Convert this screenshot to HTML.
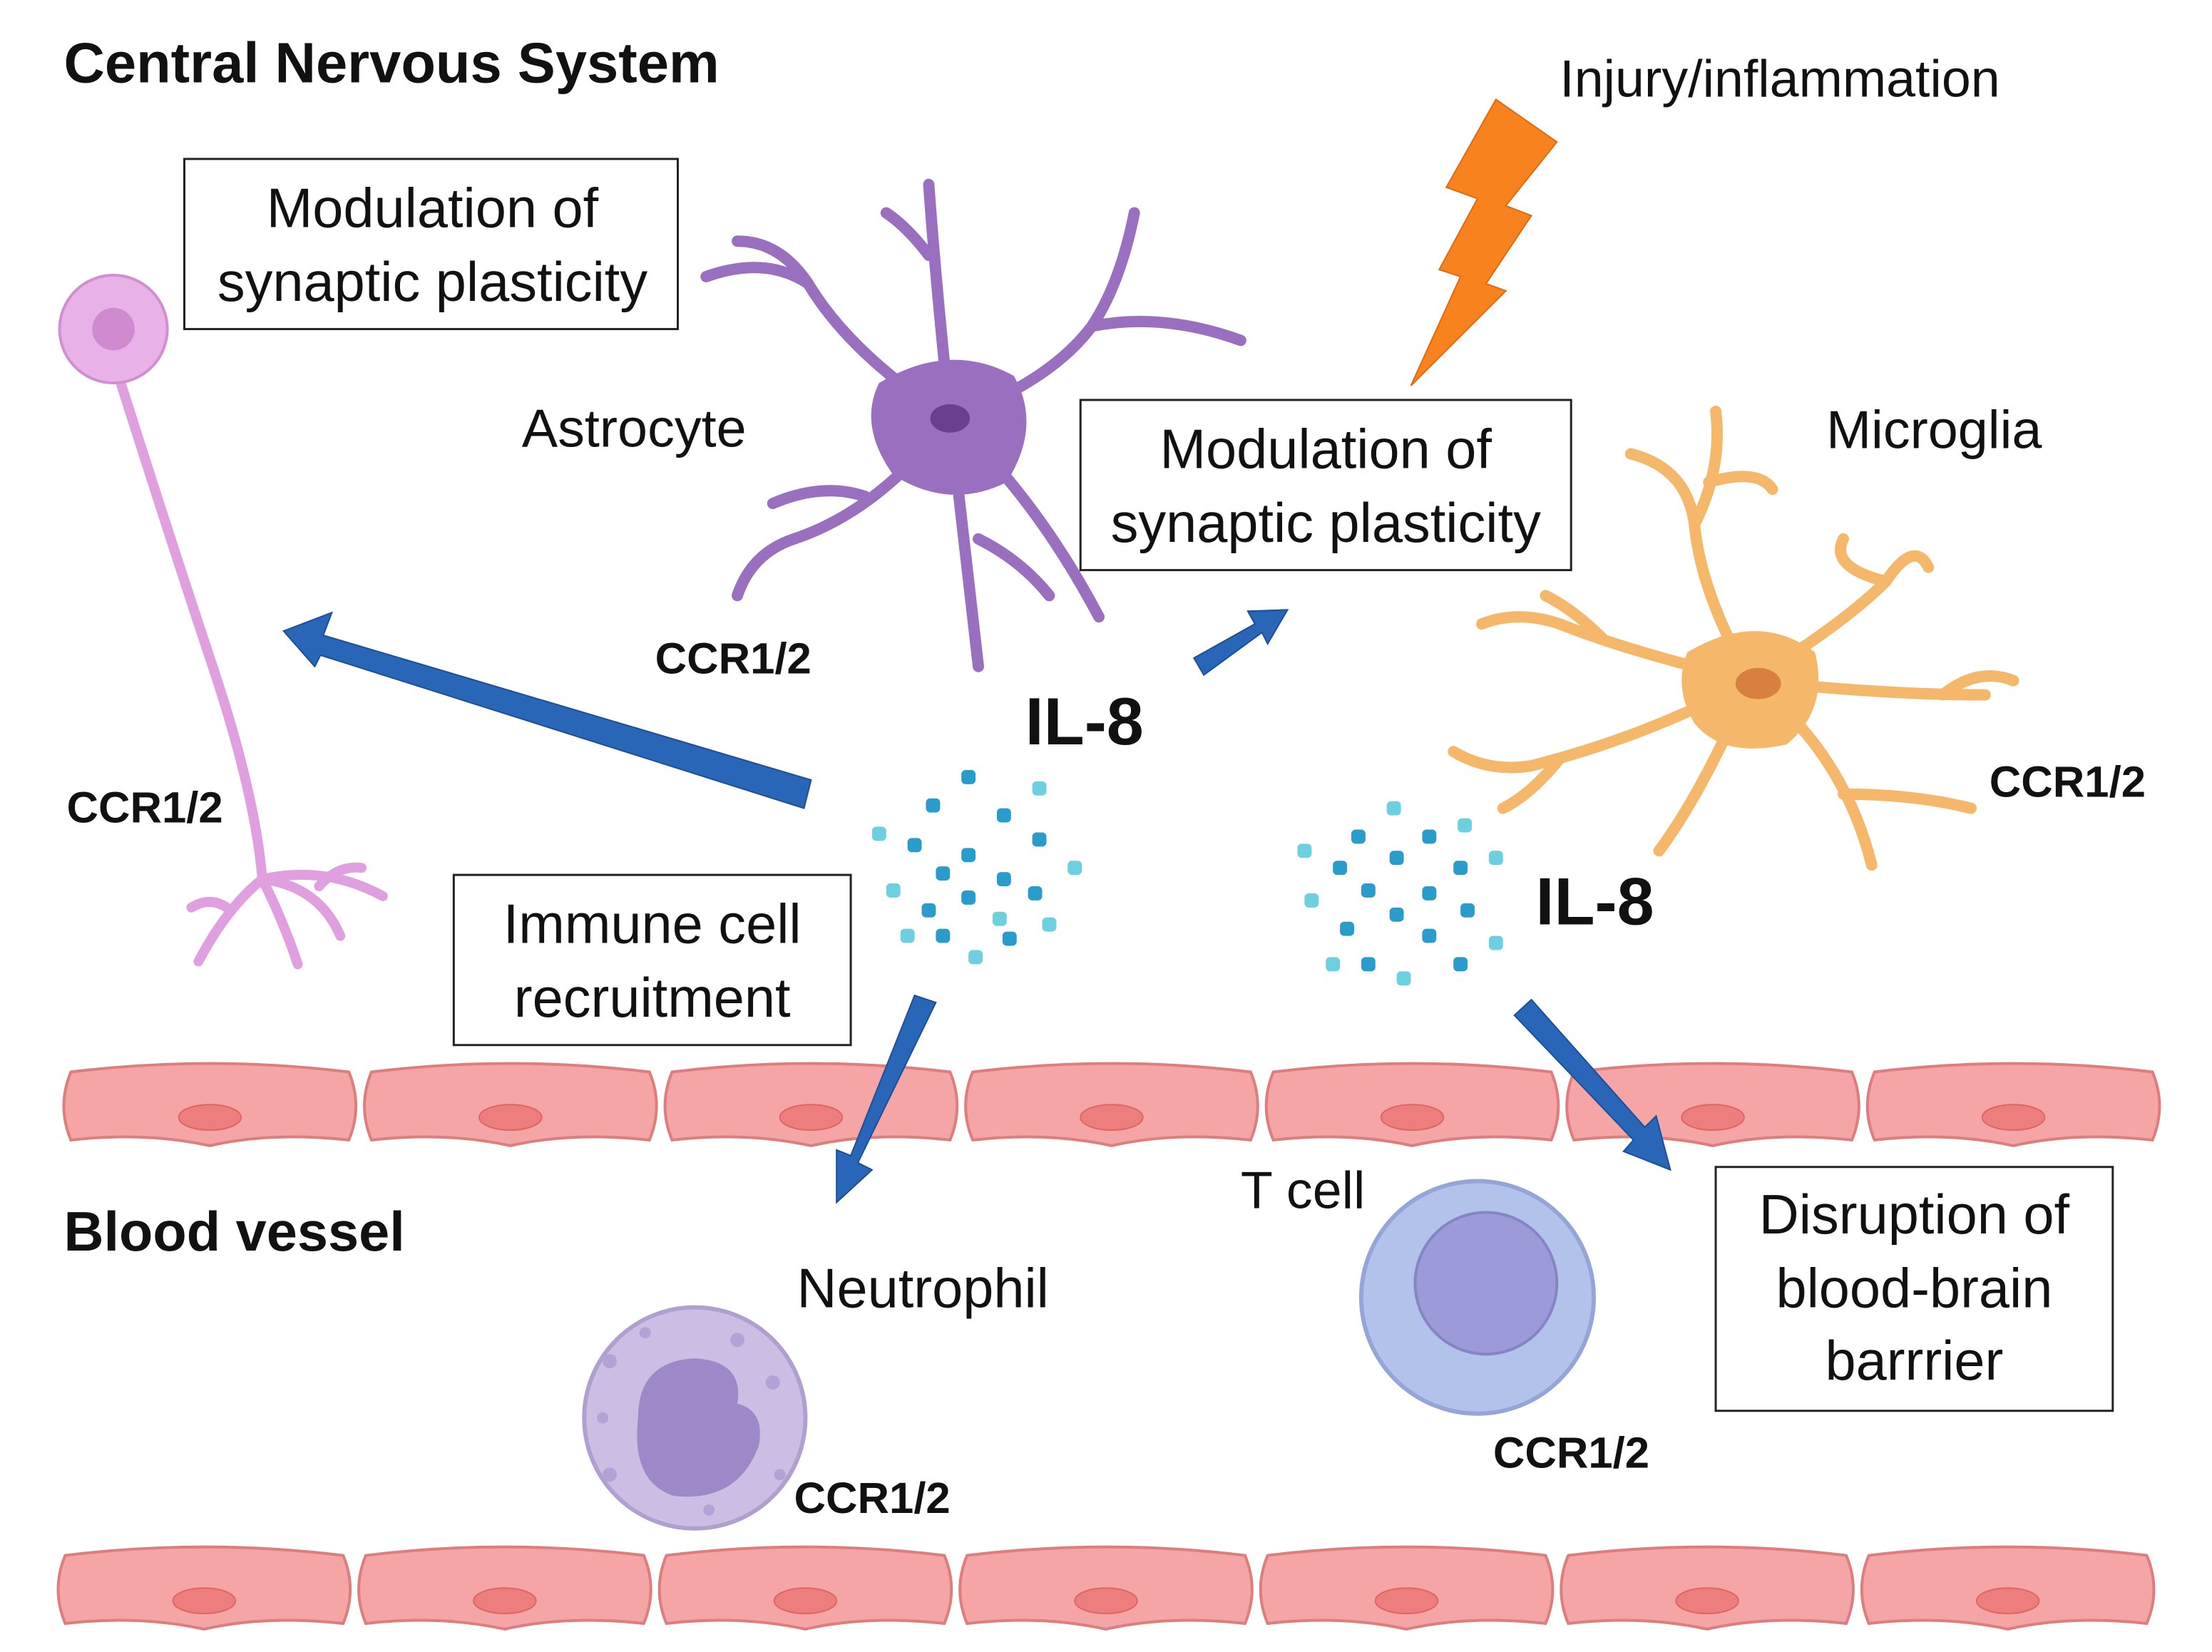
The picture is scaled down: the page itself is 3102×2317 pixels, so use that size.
<!DOCTYPE html>
<html><head><meta charset="utf-8"><style>
html,body{margin:0;padding:0;background:#fff;}
svg{display:block;}
text{font-family:"Liberation Sans",sans-serif;fill:#111;}
.b{font-weight:bold;}
</style></head><body>
<svg width="3102" height="2317" viewBox="0 0 1560 1165" xmlns="http://www.w3.org/2000/svg">
<defs>
<g id="cell"><path d="M8,4 Q106,-8 204,4 Q214,28 204,52 Q150,46 106,56 Q60,46 8,52 Q-2,28 8,4Z" fill="#f5a5a5" stroke="#dd7d7d" stroke-width="2"/><ellipse cx="106" cy="36" rx="22" ry="9" fill="#ee7d7d" stroke="#dd6666"/></g>
<g id="dot"><rect x="-5" y="-5" width="10" height="10" rx="3"/></g>
</defs>
<text x="45" y="58" class="b" font-size="40">Central Nervous System</text>
<text x="1100" y="68" font-size="37">Injury/inflammation</text>
<polygon points="1055,70 1098,100 1062,145 1080,152 1048,200 1062,205 995,272 1030,195 1015,190 1042,140 1020,132" fill="#f7821e" stroke="#e06a10"/>

<!-- neuron -->
<g fill="none" stroke="#e0a0e0" stroke-width="7" stroke-linecap="round">
<path d="M82,260 Q120,380 150,470 Q180,560 185,620"/>
<path d="M185,620 Q160,640 140,678 M185,620 Q200,650 210,680 M185,620 Q225,625 240,660 M185,620 Q230,610 270,632 M160,640 Q148,632 135,640 M225,625 Q238,610 255,612"/>
</g>
<circle cx="80" cy="232" r="38" fill="#e8b2e8" stroke="#d090d0" stroke-width="2"/>
<circle cx="80" cy="232" r="15" fill="#d08ad0"/>
<text x="47" y="580" class="b" font-size="31">CCR1/2</text>

<!-- astrocyte -->
<g fill="none" stroke="#9b6fc0" stroke-width="8" stroke-linecap="round">
<path d="M670,295 Q660,200 655,130 M670,295 Q600,250 570,200 Q540,180 498,195 M570,200 Q550,170 520,170 M670,295 Q740,270 770,230 Q790,200 800,150 M770,230 Q820,220 875,240 M670,295 Q620,360 560,380 Q530,390 520,420 M670,295 Q680,380 690,470 M670,295 Q730,350 775,435 M690,380 Q720,395 740,420 M610,350 Q580,340 545,355 M655,180 Q640,160 625,150"/>
</g>
<path d="M620,270 Q670,240 715,265 Q735,300 710,340 Q670,360 630,335 Q605,300 620,270Z" fill="#9b6fc0"/>
<ellipse cx="670" cy="295" rx="14" ry="10" fill="#6a3f90"/>
<text x="368" y="315" font-size="38">Astrocyte</text>
<text x="462" y="475" class="b" font-size="31">CCR1/2</text>

<!-- microglia -->
<g fill="none" stroke="#f5b86a" stroke-width="8" stroke-linecap="round">
<path d="M1235,480 Q1200,420 1195,370 Q1190,330 1150,320 M1195,370 Q1215,330 1210,290 M1205,340 Q1240,330 1250,345 M1235,480 Q1300,440 1330,410 Q1350,380 1360,400 M1330,410 Q1290,400 1300,380 M1235,480 Q1330,490 1400,490 M1370,490 Q1395,470 1420,480 M1235,480 Q1300,530 1320,610 M1300,560 Q1350,560 1390,570 M1235,480 Q1160,520 1080,540 Q1050,545 1025,530 M1100,535 Q1080,560 1060,570 M1235,480 Q1150,460 1100,440 Q1070,430 1045,440 M1130,450 Q1110,430 1090,420 M1235,480 Q1200,560 1170,600"/>
</g>
<path d="M1190,460 Q1240,430 1280,460 Q1290,500 1260,525 Q1215,535 1195,510 Q1180,485 1190,460Z" fill="#f5b86a"/>
<ellipse cx="1240" cy="482" rx="16" ry="11" fill="#d88040"/>
<text x="1288" y="316" font-size="38">Microglia</text>
<text x="1403" y="562" class="b" font-size="31">CCR1/2</text>

<!-- boxes -->
<g fill="#fff" stroke="#222" stroke-width="1.5">
<rect x="130" y="112" width="348" height="120"/>
<rect x="762" y="282" width="346" height="120"/>
<rect x="320" y="617" width="280" height="120"/>
<rect x="1210" y="823" width="280" height="172"/>
</g>
<g font-size="39" text-anchor="middle">
<text x="305" y="160">Modulation of</text><text x="305" y="212">synaptic plasticity</text>
<text x="935" y="330">Modulation of</text><text x="935" y="382">synaptic plasticity</text>
<text x="460" y="665">Immune cell</text><text x="460" y="717">recruitment</text>
<text x="1350" y="870">Disruption of</text><text x="1350" y="922">blood-brain</text><text x="1350" y="973">barrrier</text>
</g>

<text x="723" y="525" class="b" font-size="47">IL-8</text>
<text x="1083" y="652" class="b" font-size="47">IL-8</text>

<!-- dots -->
<g fill="#2a9ccc">
<use href="#dot" x="683" y="548"/><use href="#dot" x="733" y="556" fill="#6dd0e0"/>
<use href="#dot" x="658" y="568"/><use href="#dot" x="708" y="575"/><use href="#dot" x="620" y="588" fill="#6dd0e0"/>
<use href="#dot" x="645" y="596"/><use href="#dot" x="683" y="603"/><use href="#dot" x="733" y="592"/><use href="#dot" x="758" y="612" fill="#6dd0e0"/>
<use href="#dot" x="665" y="616"/><use href="#dot" x="708" y="620"/><use href="#dot" x="630" y="628" fill="#6dd0e0"/>
<use href="#dot" x="683" y="633"/><use href="#dot" x="730" y="630"/><use href="#dot" x="655" y="642"/><use href="#dot" x="705" y="648" fill="#6dd0e0"/>
<use href="#dot" x="640" y="660" fill="#6dd0e0"/><use href="#dot" x="665" y="660"/><use href="#dot" x="740" y="652" fill="#6dd0e0"/><use href="#dot" x="688" y="675" fill="#6dd0e0"/><use href="#dot" x="712" y="662"/>
<use href="#dot" x="983" y="570" fill="#6dd0e0"/><use href="#dot" x="958" y="590"/><use href="#dot" x="1008" y="590"/><use href="#dot" x="1033" y="582" fill="#6dd0e0"/>
<use href="#dot" x="920" y="600" fill="#6dd0e0"/><use href="#dot" x="945" y="612"/><use href="#dot" x="985" y="605"/><use href="#dot" x="1030" y="612"/><use href="#dot" x="1055" y="605" fill="#6dd0e0"/>
<use href="#dot" x="965" y="628"/><use href="#dot" x="1008" y="630"/><use href="#dot" x="925" y="635" fill="#6dd0e0"/><use href="#dot" x="985" y="645"/><use href="#dot" x="1035" y="642"/>
<use href="#dot" x="950" y="655"/><use href="#dot" x="1008" y="660"/><use href="#dot" x="1055" y="665" fill="#6dd0e0"/><use href="#dot" x="940" y="680" fill="#6dd0e0"/><use href="#dot" x="965" y="680"/><use href="#dot" x="990" y="690" fill="#6dd0e0"/><use href="#dot" x="1030" y="680"/>
</g>

<!-- vessel rows -->
<g><use href="#cell" x="42" y="752"/><use href="#cell" x="254" y="752"/><use href="#cell" x="466" y="752"/><use href="#cell" x="678" y="752"/><use href="#cell" x="890" y="752"/><use href="#cell" x="1102" y="752"/><use href="#cell" x="1314" y="752"/></g>
<g><use href="#cell" x="38" y="1093"/><use href="#cell" x="250" y="1093"/><use href="#cell" x="462" y="1093"/><use href="#cell" x="674" y="1093"/><use href="#cell" x="886" y="1093"/><use href="#cell" x="1098" y="1093"/><use href="#cell" x="1310" y="1093"/></g>

<!-- arrows -->
<g fill="#2a66b8" stroke="#1c4f96" stroke-width="1">
<polygon points="567,570 572,550 228,448 234,432 200,445 222,470 226,462"/>
<polygon points="849,476 842,464 885,440 880,431 908,430 894,454 890,446"/>
<polygon points="660,707 645,702 600,815 590,811 590,848 615,825 605,820"/>
<polygon points="1068,716 1080,705 1160,795 1168,787 1178,825 1145,812 1152,804"/>
</g>

<text x="45" y="882" class="b" font-size="39">Blood vessel</text>
<text x="875" y="852" font-size="37">T cell</text>
<text x="562" y="922" font-size="39">Neutrophil</text>

<!-- neutrophil -->
<circle cx="490" cy="1000" r="78" fill="#cbbde3" stroke="#b0a0d0" stroke-width="3"/>
<path d="M450,1000 Q450,960 490,958 Q525,960 520,990 Q540,995 535,1020 Q520,1060 475,1055 Q445,1045 450,1000Z" fill="#9d88c8"/>
<g fill="#b3a2d5"><circle cx="430" cy="960" r="5"/><circle cx="520" cy="945" r="5"/><circle cx="545" cy="975" r="5"/><circle cx="430" cy="1040" r="5"/><circle cx="455" cy="940" r="4"/><circle cx="425" cy="1000" r="4"/><circle cx="550" cy="1040" r="4"/><circle cx="500" cy="1065" r="4"/></g>
<text x="560" y="1067" class="b" font-size="31">CCR1/2</text>

<!-- T cell -->
<circle cx="1042" cy="915" r="82" fill="#b3c2ea" stroke="#95a5d8" stroke-width="3"/>
<circle cx="1048" cy="905" r="50" fill="#9c9ad8" stroke="#8585c5" stroke-width="2"/>
<text x="1053" y="1035" class="b" font-size="31">CCR1/2</text>
</svg>
</body></html>
